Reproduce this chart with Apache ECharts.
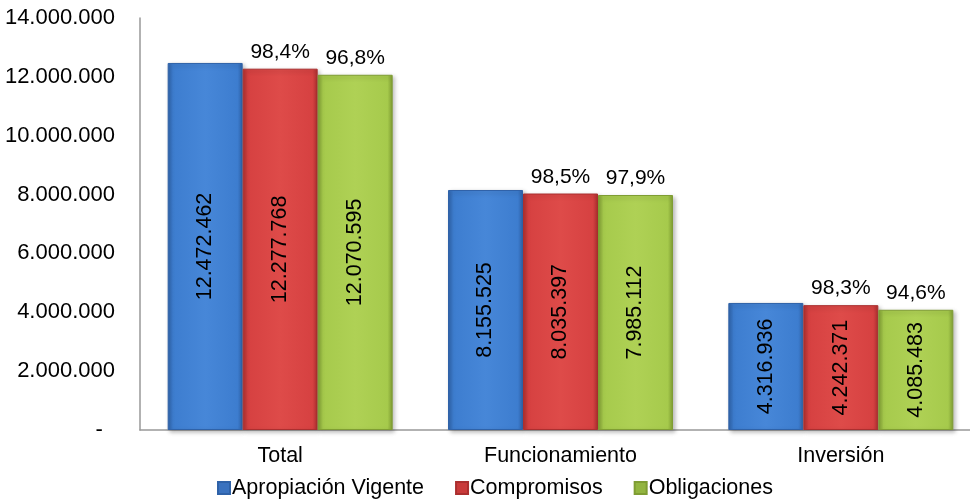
<!DOCTYPE html>
<html>
<head>
<meta charset="utf-8">
<script src="https://cdn.jsdelivr.net/npm/echarts@6/dist/echarts.min.js"></script>
<style>
  html, body { margin: 0; padding: 0; background: #fff; overflow: hidden; }
  #chart { width: 985px; height: 499px; }
</style>
</head>
<body>
<div id="chart"></div>
<script>
const categories = ['Total', 'Funcionamiento', 'Inversión']
const apropiacion = [12472462, 8155525, 4316936]
const compromisos = [12277768, 8035397, 4242371]
const obligaciones = [12070595, 7985112, 4085483]
const pctCompromisos = ['98,4%', '98,5%', '98,3%']
const pctObligaciones = ['96,8%', '97,9%', '94,6%']

const FONT = 'Liberation Sans, Arial, sans-serif'
const fmt = (v) => v === 0 ? '-  ' : v.toString().replace(/\B(?=(\d{3})+(?!\d))/g, '.')

function bevel(dark, mid, light) {
  return new echarts.graphic.LinearGradient(0, 0, 1, 0, [
    { offset: 0, color: dark },
    { offset: 0.07, color: mid },
    { offset: 0.5, color: light },
    { offset: 0.93, color: mid },
    { offset: 1, color: dark },
  ])
}

const colors = [
  { dark: '#2f62a8', mid: '#3d7dcf', light: '#4787d8', legend: '#3a72bf' },
  { dark: '#ab2f2f', mid: '#d64141', light: '#de4b49', legend: '#c93a3a' },
  { dark: '#7f9d33', mid: '#a6ca4c', light: '#afd155', legend: '#93b540' },
]

function barSeries(name, data, c) {
  return {
    name,
    type: 'bar',
    barGap: '0%',
    barWidth: 75,
    data,
    itemStyle: {
      color: bevel(c.dark, c.mid, c.light),
      borderColor: c.dark,
      borderWidth: 1,
      shadowColor: 'rgba(0,0,0,0.25)',
      shadowBlur: 4,
      shadowOffsetX: 2,
      shadowOffsetY: 2,
    },
    label: {
      show: true,
      position: 'inside',
      rotate: 90,
      color: '#000',
      fontSize: 21.5,
      fontFamily: FONT,
      formatter: (p) => fmt(p.value),
    },
  }
}

// invisible bars on a second category axis, used only to place the % labels
function pctSeries(name, data, pct) {
  return {
    name: name + '_pct',
    type: 'bar',
    xAxisIndex: 1,
    barGap: '0%',
    barWidth: 75,
    data,
    silent: true,
    itemStyle: { color: 'transparent' },
    label: {
      show: true,
      position: 'top',
      distance: 6,
      color: '#000',
      fontSize: 21,
      fontFamily: FONT,
      formatter: (p) => pct[p.dataIndex],
    },
    z: 5,
  }
}

const chart = echarts.init(document.getElementById('chart'), undefined, { renderer: 'canvas' })
chart.setOption({
  backgroundColor: '#fff',
  animation: false,
  textStyle: { fontFamily: FONT },
  grid: { left: 140, width: 841, top: 18, bottom: 69 },
  legend: {
    top: 472,
    left: 212,
    itemWidth: 12,
    itemHeight: 12,
    itemGap: 31,
    icon: 'rect',
    textStyle: { color: '#000', fontSize: 21.5, padding: [0, 0, 0, -3] },
    data: [
      { name: 'Apropiación Vigente', itemStyle: { color: colors[0].legend } },
      { name: 'Compromisos', itemStyle: { color: colors[1].legend } },
      { name: 'Obligaciones', itemStyle: { color: colors[2].legend } },
    ],
  },
  xAxis: [
    {
      type: 'category',
      data: categories,
      axisLine: { lineStyle: { color: '#999', width: 1.5 } },
      axisTick: { show: false },
      axisLabel: { color: '#000', fontSize: 21.5, margin: 15 },
    },
    { type: 'category', data: categories, show: false },
  ],
  yAxis: {
    type: 'value',
    min: 0,
    max: 14000000,
    interval: 2000000,
    axisLine: { show: true, lineStyle: { color: '#999', width: 1.5 } },
    axisTick: { show: false },
    splitLine: { show: false },
    axisLabel: { color: '#000', fontSize: 22, margin: 25, formatter: fmt },
  },
  series: [
    barSeries('Apropiación Vigente', apropiacion, colors[0]),
    barSeries('Compromisos', compromisos, colors[1]),
    barSeries('Obligaciones', obligaciones, colors[2]),
    { name: 'blank', type: 'bar', xAxisIndex: 1, barGap: '0%', barWidth: 75, data: [0, 0, 0], silent: true, itemStyle: { color: 'transparent' } },
    pctSeries('Compromisos', compromisos, pctCompromisos),
    pctSeries('Obligaciones', obligaciones, pctObligaciones),
  ],
})
</script>
</body>
</html>
